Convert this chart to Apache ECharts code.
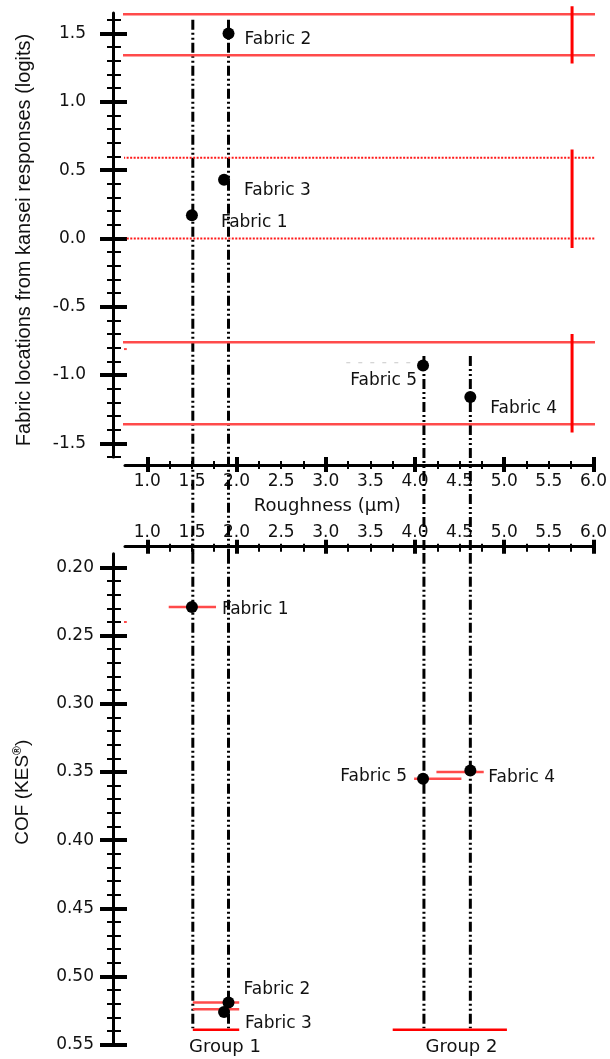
<!DOCTYPE html>
<html><head><meta charset="utf-8">
<script src="https://cdn.jsdelivr.net/npm/echarts@6/dist/echarts.min.js"></script>
<style>html,body{margin:0;padding:0;background:#fff}#c{width:610px;height:1059px}</style>
</head><body><div id="c"></div>
<script>
// ---------- data ----------
const fabrics = ['Fabric 1', 'Fabric 2', 'Fabric 3', 'Fabric 4', 'Fabric 5'];
const roughness = [1.50, 1.91, 1.86, 4.62, 4.09];      // µm
const logits = [0.17, 1.50, 0.43, -1.16, -0.93];        // kansei locations
const cof = [0.229, 0.519, 0.526, 0.349, 0.355];        // KES COF

const roughnessTicks = [1.0, 1.5, 2.0, 2.5, 3.0, 3.5, 4.0, 4.5, 5.0, 5.5, 6.0];
const roughnessMajor = [1, 2, 3, 4, 5, 6];
const logitTicks = [-1.5, -1.0, -0.5, 0.0, 0.5, 1.0, 1.5];
const cofTicks = [0.20, 0.25, 0.30, 0.35, 0.40, 0.45, 0.50, 0.55];

// group band boundaries (logits) and their horizontal extent
const bandLevels = [1.64, 1.34, 0.59, 0.00, -0.76, -1.36];
const bandStart = [0.64, 0.64, 0.69, 0.77, 0.64, 0.64];
const bandEnd = 6.03;
// vertical group markers on the right
const markerX = 5.76;
const markerRanges = [[1.70, 1.28], [0.65, -0.07], [-0.70, -1.42]];

// vertical guide lines (roughness) through the fabrics
const guideX = [1.51, 1.91, 4.10, 4.62];
const guideTop = [1.60, 1.60, -0.86, -0.86];
const guideJoin = -2.31;     // logit level at which guides leave the upper panel
const guideCofTop = 0.19;
const guideCofBottom = 0.538;

// red horizontal ranges in the COF panel: [xFrom, xTo, cof]
const cofRanges = [
  [1.24, 1.77, 0.229],
  [3.99, 4.52, 0.355],
  [4.24, 4.77, 0.350],
  [1.51, 2.03, 0.519],
  [1.51, 2.03, 0.524]
];
const groupLines = [[1.51, 2.03, 0.539], [3.75, 5.03, 0.539]];
const groups = ['Group 1', 'Group 2'];
const groupCenters = [1.87, 4.52];

// stray marks in original
const strayTop = [0.69, 0.77, -0.81];
const strayBottom = [0.69, 0.77, 0.240];
const faintDash = [3.23, 4.07, -0.91];

// ---------- styling ----------
const TICK_FONT = 'DejaVu Sans';
const fs = 17;
const black = '#000';
const lightRed = '#ff4a4a';

const topLabelOff = [[29, 7, 'left'], [16, 6, 'left'], [20, 11, 'left'], [20, 12, 'left'], [-6, 15, 'right']];
const botLabelOff = [[30, 3, 'left'], [15, -13, 'left'], [21, 12, 'left'], [18, 7, 'left'], [-16, -2, 'right']];

function minorValues(lo, hi, step, majorStep) {
  const out = [];
  const n = Math.round((hi - lo) / step);
  for (let i = 0; i <= n; i++) {
    const v = +(lo + i * step).toFixed(4);
    const r = v / majorStep;
    if (Math.abs(r - Math.round(r)) > 1e-6) out.push(v);
  }
  return out;
}

const X_MIN = 0.75, X_MAX = 6.0;
const L_MIN = -1.6, L_MAX = 1.65;
const C_MIN = 0.19, C_MAX = 0.55;

function baseX(grid, extra) {
  return Object.assign({
    type: 'value', gridIndex: grid, min: X_MIN, max: X_MAX,
    splitLine: { show: false },
    axisLine: { show: false, onZero: false },
    axisTick: { show: false },
    axisLabel: { show: false }
  }, extra);
}
function baseY(grid, min, max, extra) {
  return Object.assign({
    type: 'value', gridIndex: grid, min: min, max: max,
    splitLine: { show: false },
    axisLine: { show: false, onZero: false },
    axisTick: { show: false },
    axisLabel: { show: false }
  }, extra);
}
const labelStyle = { fontFamily: TICK_FONT, fontSize: fs, color: '#111' };

const xAxes = [
  // top panel
  baseX(0, { position: 'bottom', offset: 8,
    axisLine: { show: true, onZero: false, lineStyle: { color: black, width: 3 } },
    axisLabel: Object.assign({ show: true, margin: 8, customValues: roughnessTicks, formatter: v => v.toFixed(1) }, labelStyle),
    name: 'Roughness (\u00b5m)', nameLocation: 'middle', nameGap: 32,
    nameTextStyle: { fontFamily: TICK_FONT, fontSize: 18, color: '#111', padding: [0, 64, 0, 0] }
  }),
  baseX(0, { position: 'bottom', offset: 0,
    axisTick: { show: true, inside: false, length: 15, customValues: roughnessMajor, lineStyle: { color: black, width: 4 } } }),
  baseX(0, { position: 'bottom', offset: 4,
    axisTick: { show: true, inside: false, length: 8, customValues: minorValues(1.25, 6, 0.25, 1), lineStyle: { color: black, width: 2 } } }),
  // bottom panel
  baseX(1, { position: 'top', offset: 7,
    axisLine: { show: true, onZero: false, lineStyle: { color: black, width: 3 } },
    axisLabel: Object.assign({ show: true, margin: 6, customValues: roughnessTicks, formatter: v => v.toFixed(1) }, labelStyle)
  }),
  baseX(1, { position: 'top', offset: 0,
    axisTick: { show: true, inside: false, length: 14, customValues: roughnessMajor, lineStyle: { color: black, width: 4 } } }),
  baseX(1, { position: 'top', offset: 2,
    axisTick: { show: true, inside: false, length: 8, customValues: minorValues(1.25, 6, 0.25, 1), lineStyle: { color: black, width: 2 } } })
];

const yAxes = [
  baseY(0, L_MIN, L_MAX, { position: 'left', offset: 12,
    axisLine: { show: true, onZero: false, lineStyle: { color: black, width: 3 } },
    axisLabel: Object.assign({ show: true, margin: 27, customValues: logitTicks, formatter: v => v.toFixed(1) }, labelStyle),
    name: 'Fabric locations from kansei responses (logits)', nameLocation: 'middle', nameGap: 79,
    nameTextStyle: { fontFamily: 'Liberation Sans', fontSize: 20, color: '#111', padding: [0, 10, 0, 0] }
  }),
  baseY(0, L_MIN, L_MAX, { position: 'left', offset: -2,
    axisTick: { show: true, inside: false, length: 27, customValues: logitTicks, lineStyle: { color: black, width: 4 } } }),
  baseY(0, L_MIN, L_MAX, { position: 'left', offset: 4,
    axisTick: { show: true, inside: false, length: 14, customValues: minorValues(-1.6, 1.6, 0.1, 0.5), lineStyle: { color: black, width: 2 } } }),
  baseY(1, C_MIN, C_MAX, { position: 'left', offset: 12, inverse: true,
    axisLine: { show: true, onZero: false, lineStyle: { color: black, width: 3 } },
    axisLabel: Object.assign({ show: true, margin: 19, customValues: cofTicks, formatter: v => v.toFixed(2) }, labelStyle),
    name: 'COF (KES{sup|\u00ae})', nameLocation: 'middle', nameGap: 79,
    nameTextStyle: { fontFamily: 'Liberation Sans', fontSize: 19, color: '#111', padding: [0, 0, 0, 14],
      rich: { sup: { fontFamily: 'Liberation Sans', fontSize: 12, fontWeight: 'bold', verticalAlign: 'top', padding: [0, 0, 10, 0], color: '#111' } } }
  }),
  baseY(1, C_MIN, C_MAX, { position: 'left', offset: -2, inverse: true,
    axisTick: { show: true, inside: false, length: 27, customValues: cofTicks, lineStyle: { color: black, width: 4 } } }),
  baseY(1, C_MIN, C_MAX, { position: 'left', offset: 4, inverse: true,
    axisTick: { show: true, inside: false, length: 14, customValues: minorValues(0.21, 0.54, 0.01, 0.05), lineStyle: { color: black, width: 2 } } })
];

const series = [];
function seg(xi, yi, pts, lineStyle, z) {
  series.push({ type: 'line', xAxisIndex: xi, yAxisIndex: yi, data: pts, clip: false,
    symbol: 'none', silent: true, animation: false, lineStyle: lineStyle, z: z || 2 });
}
const dashDot = { color: black, width: 3, type: [10, 3, 2, 3, 2, 3] };

guideX.forEach((x, i) => {
  seg(0, 0, [[x, guideTop[i]], [x, guideJoin]], dashDot, 1);
  seg(3, 3, [[x, guideCofTop], [x, guideCofBottom]], dashDot, 1);
});

bandLevels.forEach((lv, i) => {
  const dotted = (i === 2 || i === 3);
  seg(0, 0, [[bandStart[i], lv], [bandEnd, lv]],
    dotted ? { color: '#ff1a1a', width: 2, type: [2, 1.5] } : { color: lightRed, width: 2.5 }, 2);
});
markerRanges.forEach(r => seg(0, 0, [[markerX, r[0]], [markerX, r[1]]], { color: '#ff0000', width: 3 }, 2));

seg(0, 0, [[strayTop[0], strayTop[2]], [strayTop[1], strayTop[2]]], { color: lightRed, width: 2 }, 2);
seg(3, 3, [[strayBottom[0], strayBottom[2]], [strayBottom[1], strayBottom[2]]], { color: lightRed, width: 2 }, 2);
seg(0, 0, [[faintDash[0], faintDash[2]], [faintDash[1], faintDash[2]]], { color: '#c8c8c8', width: 1, type: [4, 8] }, 2);

cofRanges.forEach(r => seg(3, 3, [[r[0], r[2]], [r[1], r[2]]], { color: lightRed, width: 2.5 }, 2));
groupLines.forEach(r => seg(3, 3, [[r[0], r[2]], [r[1], r[2]]], { color: '#ff0000', width: 2.5 }, 2));

const fabLabel = { fontFamily: TICK_FONT, fontSize: fs, color: '#111' };
series.push({
  type: 'scatter', xAxisIndex: 0, yAxisIndex: 0, symbol: 'circle', symbolSize: 12, z: 5,
  itemStyle: { color: black, opacity: 1 }, animation: false, silent: true,
  data: fabrics.map((f, i) => ({ value: [roughness[i], logits[i]],
    label: Object.assign({ show: true, formatter: f, position: [topLabelOff[i][0] + 6, topLabelOff[i][1] + 6],
      align: topLabelOff[i][2], verticalAlign: 'middle' }, fabLabel) }))
});
series.push({
  type: 'scatter', xAxisIndex: 3, yAxisIndex: 3, symbol: 'circle', symbolSize: 12, z: 5,
  itemStyle: { color: black, opacity: 1 }, animation: false, silent: true,
  data: fabrics.map((f, i) => ({ value: [roughness[i], cof[i]],
    label: Object.assign({ show: true, formatter: f, position: [botLabelOff[i][0] + 6, botLabelOff[i][1] + 6],
      align: botLabelOff[i][2], verticalAlign: 'middle' }, fabLabel) }))
});
series.push({
  type: 'scatter', xAxisIndex: 3, yAxisIndex: 3, symbol: 'circle', symbolSize: 2, z: 5,
  itemStyle: { color: 'rgba(0,0,0,0)', opacity: 1 }, animation: false, silent: true,
  data: groups.map((g, i) => ({ value: [groupCenters[i], C_MAX],
    label: Object.assign({ show: true, formatter: g, position: 'inside', offset: [0, 3],
      align: 'center', verticalAlign: 'middle' }, fabLabel, { fontSize: 18 }) }))
});

const chart = echarts.init(document.getElementById('c'), null, { renderer: 'canvas' });
chart.setOption({
  animation: false,
  backgroundColor: '#fff',
  grid: [
    { left: 125, right: 14, top: 13, height: 444 },
    { left: 125, right: 14, top: 553.7, height: 491 }
  ],
  xAxis: xAxes,
  yAxis: yAxes,
  series: series
});
</script></body></html>
